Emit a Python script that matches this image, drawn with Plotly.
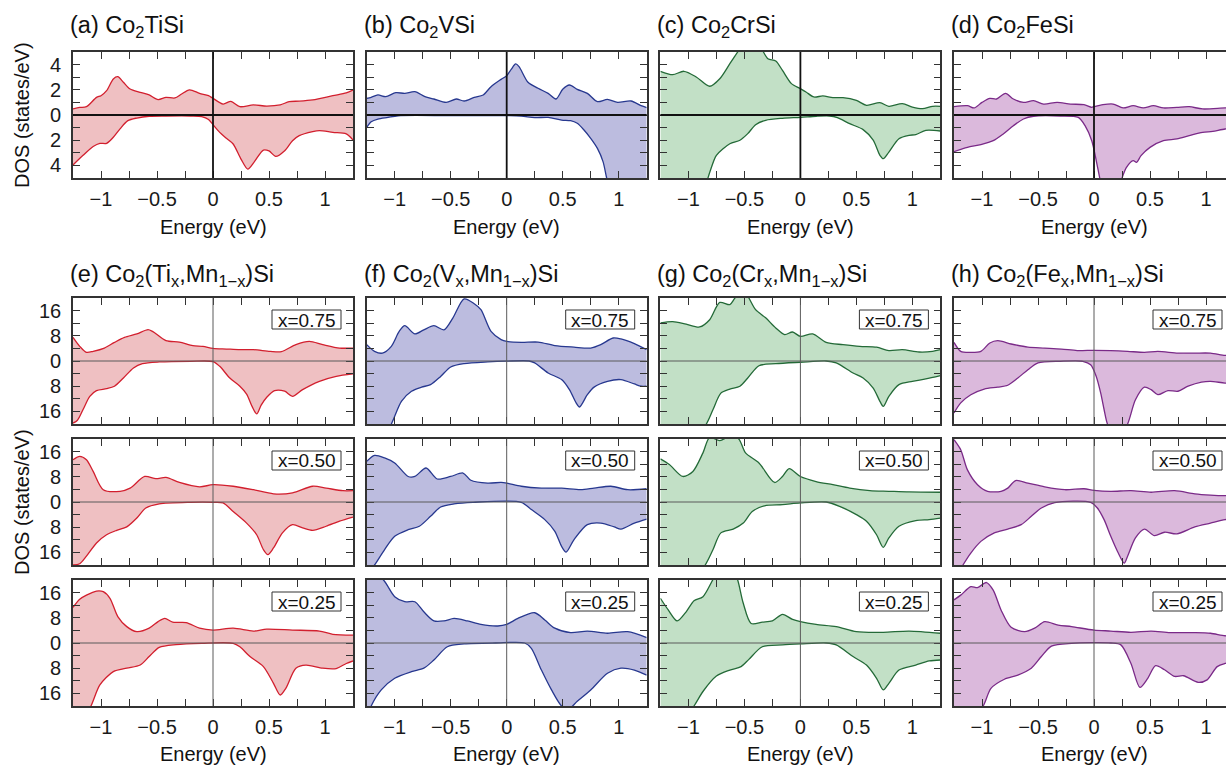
import plotly.graph_objects as go

# ---------------- data (energy in eV, DOS in states/eV; minority spin negative) -------------
# (a) Co2TiSi
a_up_E = [-1.25,-1.19,-1.13,-1.04,-1.0,-0.95,-0.89,-0.85,-0.8,-0.74,-0.65,-0.57,-0.49,-0.42,-0.34,-0.28,-0.21,-0.12,-0.04,0.0,0.09,0.16,0.24,0.36,0.48,0.6,0.68,0.77,0.89,0.95,1.07,1.19,1.25]
a_up_D = [0.48,0.6,0.66,1.4,1.53,1.93,2.86,3.04,2.6,2.06,1.8,1.59,1.22,1.4,1.35,1.67,2.0,1.72,1.53,1.32,0.87,1.08,0.66,0.8,0.71,0.8,1.06,1.1,1.2,1.3,1.53,1.75,1.98]
a_dn_E = [-1.25,-1.16,-1.07,-1.01,-0.95,-0.89,-0.83,-0.76,-0.68,-0.57,-0.42,-0.2,-0.1,-0.04,0.0,0.06,0.12,0.18,0.25,0.31,0.37,0.45,0.5,0.56,0.64,0.71,0.77,0.89,0.95,1.07,1.19,1.25]
a_dn_D = [-3.97,-3.2,-2.5,-2.25,-2.25,-1.77,-1.1,-0.45,-0.24,-0.1,-0.08,-0.08,-0.12,-0.35,-0.77,-1.38,-1.85,-2.3,-3.5,-4.29,-3.7,-2.78,-2.85,-3.28,-2.83,-2.04,-1.64,-1.32,-1.24,-1.38,-1.5,-1.98]
# (b) Co2VSi
b_up_E = [-1.25,-1.21,-1.15,-1.08,-0.99,-0.91,-0.82,-0.73,-0.65,-0.54,-0.45,-0.38,-0.29,-0.21,-0.14,-0.05,0.0,0.04,0.08,0.11,0.19,0.28,0.37,0.44,0.5,0.56,0.63,0.72,0.81,0.9,0.99,1.11,1.2,1.25]
b_up_D = [1.32,1.4,1.59,1.46,1.77,1.72,1.85,1.46,1.27,1.0,1.27,1.11,1.4,1.59,2.25,2.83,3.12,3.62,4.05,3.84,2.6,2.12,1.72,1.27,2.04,2.38,2.04,1.72,1.06,1.24,1.0,1.11,0.74,0.58]
b_dn_E = [-1.25,-1.21,-1.15,-1.06,-0.97,-0.5,0.0,0.13,0.25,0.37,0.49,0.57,0.63,0.69,0.75,0.81,0.86,0.89,0.93,1.0,1.25]
b_dn_D = [-0.98,-0.53,-0.32,-0.19,-0.06,-0.05,-0.05,-0.08,-0.21,-0.19,-0.4,-0.45,-0.66,-1.19,-1.85,-2.65,-3.7,-4.9,-6.5,-8.5,-12.0]
# (c) Co2CrSi
c_up_E = [-1.25,-1.14,-1.04,-0.93,-0.81,-0.72,-0.63,-0.56,-0.5,-0.42,-0.35,-0.29,-0.22,-0.16,-0.08,0.0,0.05,0.12,0.2,0.29,0.38,0.5,0.59,0.71,0.79,0.91,1.0,1.09,1.18,1.25]
c_up_D = [3.47,3.2,3.47,3.02,2.28,2.88,4.07,5.0,5.8,6.0,5.3,4.47,4.29,3.54,2.49,2.09,1.83,1.43,1.51,1.38,1.38,1.16,0.77,0.98,0.69,0.9,0.63,0.5,0.69,0.69]
c_dn_E = [-1.25,-1.0,-0.85,-0.8,-0.75,-0.63,-0.54,-0.47,-0.4,-0.31,-0.16,0.0,0.14,0.26,0.33,0.44,0.56,0.65,0.71,0.74,0.79,0.88,0.97,1.03,1.12,1.25]
c_dn_D = [-12.0,-8.0,-5.6,-4.3,-3.2,-2.28,-2.0,-1.48,-0.77,-0.42,-0.26,-0.19,-0.1,-0.08,-0.21,-0.69,-1.16,-2.0,-3.2,-3.47,-2.94,-1.88,-1.61,-1.56,-1.22,-1.27]
# (d) Co2FeSi
d_up_E = [-1.25,-1.13,-1.07,-1.0,-0.93,-0.87,-0.79,-0.72,-0.63,-0.54,-0.45,-0.33,-0.21,-0.09,-0.02,0.0,0.08,0.17,0.26,0.35,0.44,0.53,0.62,0.74,0.85,0.97,1.17,1.25]
d_up_D = [0.66,0.74,0.56,1.0,1.32,1.27,1.72,1.27,1.0,1.14,0.87,1.0,0.87,0.82,0.61,0.66,0.82,0.87,0.56,0.74,0.56,0.74,0.56,0.61,0.66,0.48,0.56,0.56]
d_dn_E = [-1.25,-1.13,-1.01,-0.9,-0.81,-0.72,-0.63,-0.54,-0.3,-0.14,-0.08,-0.02,0.02,0.05,0.1,0.18,0.25,0.29,0.35,0.38,0.42,0.5,0.62,0.74,0.85,0.97,1.06,1.17,1.25]
d_dn_D = [-2.91,-2.57,-2.35,-2.04,-1.5,-0.85,-0.32,-0.1,-0.08,-0.19,-0.85,-2.04,-3.62,-4.95,-7.0,-7.0,-5.0,-4.15,-3.62,-3.76,-3.23,-2.57,-2.04,-1.9,-1.64,-1.38,-1.3,-1.11,-1.1]

# (e) Co2(Ti,Mn)Si, x = 0.75 / 0.50 / 0.25
e1_up_E = [-1.25,-1.19,-1.13,-1.07,-0.97,-0.88,-0.79,-0.68,-0.58,-0.54,-0.42,-0.3,-0.18,-0.09,0.0,0.12,0.24,0.36,0.51,0.61,0.74,0.86,0.98,1.13,1.25]
e1_up_D = [7.5,4.66,2.75,3.07,4.1,5.9,7.5,8.6,9.95,9.4,6.45,6.0,4.87,4.66,4.0,3.8,3.6,3.6,3.07,2.96,5.2,6.24,5.2,4.1,4.1]
e1_dn_E = [-1.25,-1.21,-1.16,-1.1,-1.04,-0.95,-0.88,-0.8,-0.71,-0.63,-0.48,-0.2,0.0,0.06,0.15,0.24,0.3,0.35,0.39,0.43,0.48,0.55,0.64,0.71,0.8,0.95,1.1,1.25]
e1_dn_D = [-19.7,-18.8,-15.4,-11.2,-9.4,-8.8,-8.0,-5.4,-2.2,-0.85,-0.3,-0.1,-0.2,-1.7,-5.4,-8.0,-10.5,-14.5,-16.8,-14.0,-11.5,-9.4,-9.6,-11.2,-9.1,-6.45,-4.87,-4.1]
e2_up_E = [-1.25,-1.19,-1.13,-1.07,-0.98,-0.83,-0.74,-0.61,-0.51,-0.42,-0.3,-0.12,0.0,0.18,0.36,0.54,0.71,0.89,1.01,1.16,1.25]
e2_up_D = [13.4,14.5,13.4,9.7,3.9,3.4,4.4,8.1,7.4,7.8,6.2,4.8,5.5,5.0,3.9,2.6,2.9,5.0,4.4,3.6,3.6]
e2_dn_E = [-1.25,-1.19,-1.13,-1.04,-0.95,-0.86,-0.77,-0.68,-0.6,-0.48,-0.2,0.0,0.09,0.18,0.3,0.39,0.45,0.49,0.54,0.62,0.71,0.8,0.89,1.01,1.13,1.25]
e2_dn_D = [-20.0,-19.6,-17.2,-13.0,-10.4,-9.0,-7.9,-5.1,-1.9,-0.6,-0.1,-0.1,-0.3,-3.0,-6.7,-10.4,-15.1,-16.7,-14.6,-9.8,-7.2,-8.2,-9.0,-7.7,-6.1,-4.8]
e3_up_E = [-1.25,-1.19,-1.13,-1.04,-0.98,-0.92,-0.85,-0.77,-0.68,-0.57,-0.49,-0.43,-0.36,-0.24,-0.12,0.0,0.18,0.36,0.48,0.71,0.95,1.07,1.25]
e3_up_D = [11.3,13.9,15.2,16.5,16.3,14.2,8.4,5.2,3.6,4.7,6.8,7.8,6.6,6.5,4.7,4.1,4.7,3.8,4.4,4.1,3.8,2.75,2.5]
e3_dn_E = [-1.25,-1.15,-1.09,-1.01,-0.89,-0.77,-0.65,-0.57,-0.48,-0.33,-0.1,0.18,0.24,0.33,0.45,0.54,0.6,0.65,0.74,0.83,0.98,1.1,1.19,1.25]
e3_dn_D = [-28.0,-23.0,-20.0,-13.3,-9.1,-8.0,-7.0,-4.3,-1.4,-0.5,-0.1,-0.1,-1.2,-4.3,-7.5,-12.8,-16.5,-14.4,-8.0,-7.0,-8.0,-8.1,-6.5,-5.7]

# (f) Co2(V,Mn)Si
f1_up_E = [-1.25,-1.18,-1.11,-1.03,-0.96,-0.91,-0.82,-0.74,-0.65,-0.56,-0.48,-0.38,-0.29,-0.23,-0.14,-0.05,0.0,0.13,0.28,0.43,0.6,0.75,0.84,0.95,1.02,1.14,1.25]
f1_up_D = [5.2,3.07,2.5,4.66,9.4,11.2,8.6,9.9,11.2,9.9,13.7,19.7,18.2,16.3,9.4,6.8,6.2,5.9,6.0,4.9,4.4,4.1,5.2,7.3,7.0,5.5,3.6]
f1_dn_E = [-1.25,-1.1,-1.03,-0.94,-0.85,-0.76,-0.68,-0.59,-0.5,-0.38,-0.17,0.0,0.2,0.25,0.37,0.49,0.56,0.62,0.65,0.72,0.78,0.9,1.02,1.14,1.2,1.25]
f1_dn_D = [-35.0,-24.0,-20.0,-12.8,-9.6,-8.3,-7.5,-4.9,-1.9,-0.85,-0.3,-0.05,0.0,-0.6,-3.8,-5.9,-9.1,-13.3,-14.6,-10.7,-8.3,-6.45,-5.9,-7.3,-8.0,-8.0]
f2_up_E = [-1.25,-1.18,-1.09,-1.0,-0.88,-0.82,-0.72,-0.62,-0.5,-0.39,-0.32,-0.17,-0.05,0.0,0.13,0.31,0.49,0.66,0.78,0.93,1.08,1.25]
f2_up_D = [12.9,14.8,14.0,12.4,8.1,8.1,10.8,7.3,8.1,9.2,6.9,6.0,6.2,6.0,5.0,4.4,4.4,3.9,4.4,5.0,3.9,4.2]
f2_dn_E = [-1.25,-1.18,-1.09,-1.0,-0.88,-0.78,-0.68,-0.59,-0.47,-0.3,0.13,0.22,0.34,0.43,0.49,0.53,0.6,0.72,0.84,0.96,1.02,1.14,1.25]
f2_dn_D = [-23.0,-20.0,-15.1,-10.9,-8.8,-7.7,-4.55,-1.6,-0.6,-0.1,-0.1,-2.4,-5.6,-9.3,-14.1,-15.9,-12.0,-7.2,-6.7,-7.9,-8.6,-6.7,-5.4]
f3_up_E = [-1.25,-1.1,-1.0,-0.91,-0.82,-0.74,-0.65,-0.56,-0.47,-0.35,-0.23,-0.08,0.0,0.1,0.25,0.34,0.43,0.57,0.72,0.9,1.08,1.25]
f3_up_D = [24.0,20.0,14.7,13.1,13.1,9.9,7.0,7.0,7.8,7.0,5.9,5.4,5.9,7.8,9.6,7.3,4.7,3.3,3.8,3.1,3.6,1.7]
f3_dn_E = [-1.25,-1.21,-1.12,-1.0,-0.85,-0.74,-0.65,-0.53,-0.38,-0.1,0.16,0.22,0.31,0.4,0.49,0.55,0.63,0.75,0.9,1.02,1.14,1.25]
f3_dn_D = [-24.0,-20.0,-14.9,-11.2,-9.1,-8.0,-5.4,-1.2,-0.3,0.0,0.0,-1.7,-8.6,-14.9,-20.0,-21.0,-18.5,-14.9,-9.6,-8.0,-8.6,-10.2]

# (g) Co2(Cr,Mn)Si
g1_up_E = [-1.25,-1.14,-1.02,-0.9,-0.81,-0.72,-0.63,-0.59,-0.52,-0.46,-0.4,-0.31,-0.22,-0.14,-0.07,0.0,0.11,0.23,0.38,0.53,0.68,0.79,0.91,1.06,1.18,1.25]
g1_up_D = [12.1,12.5,11.7,10.8,13.1,18.6,17.9,19.7,23.0,20.0,16.3,13.7,10.5,8.4,9.2,7.8,8.6,5.9,5.2,4.66,4.4,3.3,3.6,2.86,3.07,3.6]
g1_dn_E = [-1.25,-1.0,-0.84,-0.78,-0.71,-0.63,-0.54,-0.47,-0.37,-0.22,0.0,0.23,0.32,0.47,0.56,0.65,0.71,0.74,0.79,0.88,1.0,1.12,1.25]
g1_dn_D = [-35.0,-27.0,-20.0,-15.4,-10.2,-8.9,-8.0,-5.4,-1.5,-0.85,-0.4,0.0,-0.6,-3.8,-5.4,-8.6,-12.8,-14.4,-11.2,-7.5,-6.45,-5.7,-4.66]
g2_up_E = [-1.25,-1.17,-1.05,-0.96,-0.87,-0.81,-0.72,-0.62,-0.55,-0.49,-0.37,-0.23,-0.16,-0.1,0.0,0.14,0.29,0.44,0.62,0.79,0.97,1.25]
g2_up_D = [13.7,11.9,8.1,9.7,15.6,20.5,19.5,21.0,20.0,15.6,12.4,6.2,8.1,10.6,8.1,6.5,5.5,4.4,3.6,3.4,3.2,3.1]
g2_dn_E = [-1.25,-1.0,-0.85,-0.78,-0.71,-0.6,-0.51,-0.43,-0.32,-0.16,0.0,0.23,0.35,0.5,0.59,0.68,0.74,0.79,0.88,1.03,1.15,1.25]
g2_dn_D = [-35.0,-26.0,-20.0,-15.1,-9.8,-8.6,-6.7,-3.0,-1.2,-0.85,-0.3,0.0,-1.4,-4.0,-6.1,-10.4,-14.4,-11.4,-7.7,-5.9,-5.6,-5.1]
g3_up_E = [-1.25,-1.18,-1.1,-1.02,-0.95,-0.87,-0.78,-0.7,-0.62,-0.56,-0.51,-0.44,-0.34,-0.25,-0.16,-0.07,0.0,0.14,0.32,0.5,0.74,0.97,1.25]
g3_up_D = [14.2,10.5,7.0,9.9,13.4,14.7,20.2,25.0,25.0,20.0,12.6,6.2,6.6,7.0,9.1,7.5,6.8,5.9,5.2,3.6,3.4,3.8,3.1]
g3_dn_E = [-1.25,-0.95,-0.87,-0.75,-0.63,-0.53,-0.46,-0.34,-0.16,0.0,0.23,0.32,0.47,0.59,0.68,0.74,0.79,0.88,1.03,1.15,1.25]
g3_dn_D = [-35.0,-20.0,-15.4,-10.5,-8.6,-7.5,-5.2,-1.2,-0.6,-0.3,0.0,-0.6,-4.3,-7.0,-11.2,-14.9,-12.8,-8.6,-7.0,-5.7,-5.4]

# (h) Co2(Fe,Mn)Si
h1_up_E = [-1.25,-1.19,-1.1,-1.01,-0.93,-0.86,-0.74,-0.59,-0.44,-0.29,-0.15,0.0,0.15,0.3,0.45,0.57,0.75,0.9,1.04,1.17,1.25]
h1_up_D = [5.9,3.07,2.75,3.07,5.7,6.45,5.4,4.4,4.1,3.8,3.3,3.4,3.3,3.07,2.75,3.07,2.5,2.5,2.5,1.8,1.8]
h1_dn_E = [-1.25,-1.19,-1.1,-0.98,-0.86,-0.77,-0.68,-0.59,-0.5,-0.3,-0.1,-0.03,0.02,0.06,0.09,0.12,0.2,0.3,0.37,0.45,0.51,0.57,0.66,0.75,0.84,0.96,1.04,1.17,1.25]
h1_dn_D = [-16.5,-13.3,-10.7,-8.9,-8.3,-7.7,-5.4,-2.75,-0.6,-0.1,-0.1,-1.2,-4.9,-10.2,-15.4,-20.0,-26.0,-20.0,-12.3,-8.3,-9.1,-10.7,-9.4,-9.6,-8.0,-6.7,-6.45,-7.0,-7.0]
h2_up_E = [-1.25,-1.19,-1.13,-1.04,-0.95,-0.83,-0.77,-0.7,-0.59,-0.44,-0.26,-0.09,0.0,0.15,0.33,0.51,0.72,0.9,1.04,1.17,1.25]
h2_up_D = [19.8,16.6,10.2,5.5,3.4,3.4,4.4,6.8,6.0,4.8,3.9,4.2,3.7,3.4,3.6,3.1,3.6,2.6,2.2,2.0,2.0]
h2_dn_E = [-1.25,-1.17,-1.1,-1.01,-0.89,-0.77,-0.65,-0.56,-0.47,-0.35,-0.03,0.03,0.09,0.15,0.21,0.27,0.3,0.37,0.45,0.54,0.63,0.74,0.9,1.04,1.17,1.25]
h2_dn_D = [-25.0,-20.0,-16.2,-12.5,-9.8,-8.6,-7.2,-4.55,-1.9,-0.2,-0.1,-1.9,-5.6,-10.9,-15.7,-19.4,-17.2,-11.4,-8.6,-10.7,-9.6,-10.1,-7.9,-6.7,-5.6,-5.2]
h3_up_E = [-1.25,-1.19,-1.1,-1.04,-0.96,-0.9,-0.83,-0.74,-0.62,-0.53,-0.44,-0.32,-0.2,0.0,0.15,0.33,0.51,0.68,0.9,1.04,1.17,1.25]
h3_up_D = [13.7,15.2,17.9,17.6,19.2,16.8,10.5,5.0,3.6,4.7,6.8,5.7,5.2,4.1,3.8,3.4,3.8,3.3,3.3,3.1,2.3,2.3]
h3_dn_E = [-1.25,-1.1,-0.99,-0.92,-0.8,-0.68,-0.56,-0.47,-0.38,-0.2,0.15,0.24,0.33,0.41,0.48,0.55,0.63,0.72,0.8,0.93,1.01,1.1,1.17,1.25]
h3_dn_D = [-30.0,-24.0,-20.0,-14.4,-11.5,-10.2,-8.0,-4.3,-1.0,-0.1,0.0,-0.6,-6.5,-14.1,-11.2,-7.2,-8.5,-10.6,-10.4,-12.5,-11.7,-7.5,-6.5,-6.0]

# ---------------- labels / ticks ----------------
TOP_TITLES = ["(a) Co<sub>2</sub>TiSi", "(b) Co<sub>2</sub>VSi", "(c) Co<sub>2</sub>CrSi", "(d) Co<sub>2</sub>FeSi"]
ALLOY_TITLES = ["(e) Co<sub>2</sub>(Ti<sub>x</sub>,Mn<sub>1\u2212x</sub>)Si",
                "(f) Co<sub>2</sub>(V<sub>x</sub>,Mn<sub>1\u2212x</sub>)Si",
                "(g) Co<sub>2</sub>(Cr<sub>x</sub>,Mn<sub>1\u2212x</sub>)Si",
                "(h) Co<sub>2</sub>(Fe<sub>x</sub>,Mn<sub>1\u2212x</sub>)Si"]
X_LABELS = ["x=0.75", "x=0.50", "x=0.25"]
X_TICKVALS = [-1, -0.5, 0, 0.5, 1]
X_TICKTEXT = ["\u22121", "\u22120.5", "0", "0.5", "1"]
Y_TOP_TICKVALS = [-4, -2, 0, 2, 4]
Y_TOP_TICKTEXT = ["4", "2", "0", "2", "4"]
Y_LOW_TICKVALS = [-16, -8, 0, 8, 16]
Y_LOW_TICKTEXT = ["16", "8", "0", "8", "16"]
X_TITLE = "Energy (eV)"
Y_TITLE = "DOS (states/eV)"

LINE_COLORS = ["#d21f2e", "#27388f", "#246a38", "#7a2a88"]
FILL_COLORS = ["#efc0c2", "#bcbcdf", "#c2e0c6", "#dbb9dc"]

top_panels = [(a_up_E, a_up_D, a_dn_E, a_dn_D), (b_up_E, b_up_D, b_dn_E, b_dn_D),
              (c_up_E, c_up_D, c_dn_E, c_dn_D), (d_up_E, d_up_D, d_dn_E, d_dn_D)]
alloy_panels = [
    [(e1_up_E, e1_up_D, e1_dn_E, e1_dn_D), (f1_up_E, f1_up_D, f1_dn_E, f1_dn_D),
     (g1_up_E, g1_up_D, g1_dn_E, g1_dn_D), (h1_up_E, h1_up_D, h1_dn_E, h1_dn_D)],
    [(e2_up_E, e2_up_D, e2_dn_E, e2_dn_D), (f2_up_E, f2_up_D, f2_dn_E, f2_dn_D),
     (g2_up_E, g2_up_D, g2_dn_E, g2_dn_D), (h2_up_E, h2_up_D, h2_dn_E, h2_dn_D)],
    [(e3_up_E, e3_up_D, e3_dn_E, e3_dn_D), (f3_up_E, f3_up_D, f3_dn_E, f3_dn_D),
     (g3_up_E, g3_up_D, g3_dn_E, g3_dn_D), (h3_up_E, h3_up_D, h3_dn_E, h3_dn_D)],
]

# ---------------- layout geometry (pixels) ----------------
W, H = 1226, 766
FONT = "Liberation Sans, Arial, Helvetica, sans-serif"
COL_LEFT = [73, 366.7, 660.4, 954]
PANEL_W = 280
PANEL_H = 126
ROW_TOP = [52, 298, 439, 580]
PX_PER_EV = PANEL_W / 2.5
BORDER = "#333333"
TICK_FONT = dict(family=FONT, size=20, color="#1a1a1a")


def px(xp):
    return xp / W


def py(yp):
    return 1 - yp / H


fig = go.Figure()
layout = {}
shapes = []
annotations = []

idx = 0
for r in range(4):
    for c in range(4):
        idx += 1
        sfx = "" if idx == 1 else str(idx)
        L = COL_LEFT[c]
        R = min(L + PANEL_W, W)
        top = ROW_TOP[r]
        xmax = -1.25 + (R - L) / PX_PER_EV
        if r == 0:
            upE, upD, dnE, dnD = top_panels[c]
            yr = [-5, 5]
            ytv, ytt, ydt = Y_TOP_TICKVALS, Y_TOP_TICKTEXT, 1
            zl_color, zl_w = "#111111", 1.8
        else:
            upE, upD, dnE, dnD = alloy_panels[r - 1][c]
            yr = [-20, 20]
            ytv, ytt, ydt = Y_LOW_TICKVALS, Y_LOW_TICKTEXT, 4
            zl_color, zl_w = "#5a5a5a", 1.0
        for E, D in ((upE, upD), (dnE, dnD)):
            fig.add_trace(go.Scatter(
                x=E, y=D, mode="lines", fill="tozeroy",
                fillcolor=FILL_COLORS[c],
                line=dict(color=LINE_COLORS[c], width=1.3, shape="spline", smoothing=0.8),
                xaxis="x" + sfx, yaxis="y" + sfx, showlegend=False, hoverinfo="skip"))
        show_xlab = (r == 0 or r == 3)
        layout["xaxis" + sfx] = dict(
            domain=[px(L), px(R)], range=[-1.25, xmax], anchor="y" + sfx,
            showline=True, linecolor=BORDER, linewidth=1.6, mirror="allticks",
            ticks="inside", ticklen=7, tickwidth=1.2, tickcolor=BORDER,
            tickmode="array", tickvals=X_TICKVALS, ticktext=X_TICKTEXT,
            showticklabels=show_xlab, ticklabelstandoff=2,
            minor=dict(ticks="inside", ticklen=7, tickwidth=1.2, tickcolor=BORDER,
                       tick0=0, dtick=0.25, showgrid=False),
            showgrid=False, zeroline=False, fixedrange=True, tickfont=TICK_FONT)
        layout["yaxis" + sfx] = dict(
            domain=[py(top + PANEL_H), py(top)], range=yr, anchor="x" + sfx,
            showline=True, linecolor=BORDER, linewidth=1.6,
            mirror=("allticks" if c < 3 else False),
            ticks="inside", ticklen=7, tickwidth=1.2, tickcolor=BORDER,
            tickmode="array", tickvals=ytv, ticktext=ytt,
            showticklabels=(c == 0), ticklabelstandoff=6,
            minor=dict(ticks="inside", ticklen=7, tickwidth=1.2, tickcolor=BORDER,
                       tick0=0, dtick=ydt, showgrid=False),
            showgrid=False, zeroline=False, fixedrange=True, tickfont=TICK_FONT)
        # zero reference lines (drawn above the filled areas)
        shapes.append(dict(type="line", xref="x" + sfx + " domain" if sfx else "x domain",
                           yref="y" + sfx, x0=0, x1=1, y0=0, y1=0,
                           line=dict(color=zl_color, width=zl_w), layer="above"))
        shapes.append(dict(type="line", xref="x" + sfx,
                           yref="y" + sfx + " domain" if sfx else "y domain",
                           x0=0, x1=0, y0=0, y1=1,
                           line=dict(color=zl_color, width=zl_w), layer="above"))
        # composition label box
        if r > 0:
            bx0, bx1 = L + 199, L + 268
            by0, by1 = top + 12, top + 31
            shapes.append(dict(type="rect", xref="paper", yref="paper",
                               x0=px(bx0), x1=px(bx1), y0=py(by1), y1=py(by0),
                               line=dict(color="#333333", width=1), fillcolor="white", layer="above"))
            annotations.append(dict(text=X_LABELS[r - 1], xref="paper", yref="paper",
                                    x=px((bx0 + bx1) / 2), y=py((by0 + by1) / 2 + 0.5),
                                    xanchor="center", yanchor="middle", showarrow=False,
                                    font=dict(family=FONT, size=19, color="#111111")))

# panel titles
for c in range(4):
    annotations.append(dict(text=TOP_TITLES[c], xref="paper", yref="paper",
                            x=px(COL_LEFT[c] - 5), y=py(43), xanchor="left", yanchor="bottom",
                            showarrow=False, font=dict(family=FONT, size=23.5, color="#111111")))
    annotations.append(dict(text=ALLOY_TITLES[c], xref="paper", yref="paper",
                            x=px(COL_LEFT[c] - 5), y=py(292), xanchor="left", yanchor="bottom",
                            showarrow=False, font=dict(family=FONT, size=23.5, color="#111111")))
    # x-axis titles
    for yc in (227, 754):
        annotations.append(dict(text=X_TITLE, xref="paper", yref="paper",
                                x=px(COL_LEFT[c] + PANEL_W / 2), y=py(yc),
                                xanchor="center", yanchor="middle", showarrow=False,
                                font=dict(family=FONT, size=20, color="#111111")))
# y-axis titles
for yc in (ROW_TOP[0] + PANEL_H / 2, ROW_TOP[2] + PANEL_H / 2):
    annotations.append(dict(text=Y_TITLE, xref="paper", yref="paper",
                            x=px(22), y=py(yc), xanchor="center", yanchor="middle",
                            textangle=-90, showarrow=False,
                            font=dict(family=FONT, size=20, color="#111111")))

fig.update_layout(
    width=W, height=H, margin=dict(l=0, r=0, t=0, b=0),
    paper_bgcolor="white", plot_bgcolor="white",
    shapes=shapes, annotations=annotations, **layout)

fig.write_html("out.html", config={"displayModeBar": False},
               post_script="document.body.style.margin='0';")
